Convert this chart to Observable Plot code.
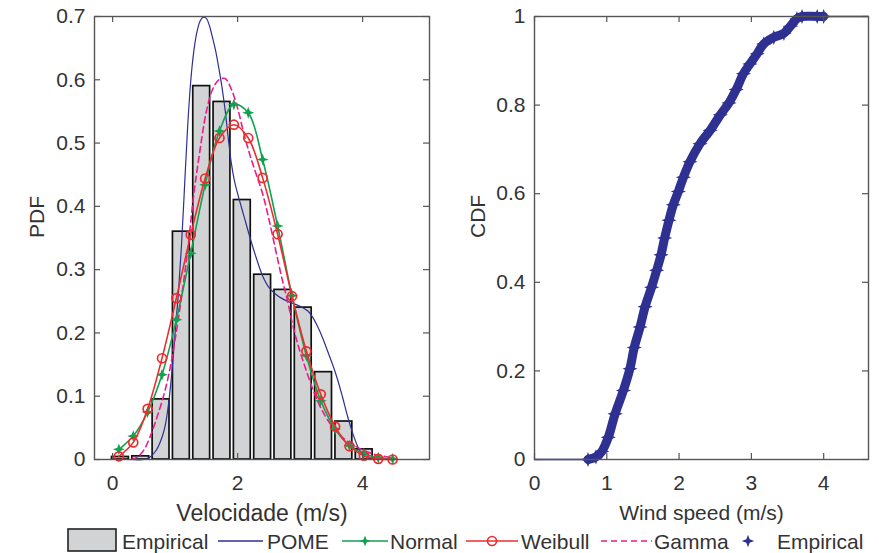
<!DOCTYPE html>
<html><head><meta charset="utf-8">
<script src="https://cdn.jsdelivr.net/npm/d3@7"></script>
<script src="https://cdn.jsdelivr.net/npm/@observablehq/plot@0.6"></script>
<style>
body{margin:0;background:#fff;font-family:"Liberation Sans",Arial,sans-serif;}
#wrap{position:relative;width:879px;height:553px;overflow:hidden;background:#fff;}
#left{position:absolute;left:0;top:0;}
#right{position:absolute;left:440px;top:0;}
#legend{position:absolute;left:0;top:527px;width:879px;height:26px;}
</style></head>
<body>
<div id="wrap"><div id="left"></div><div id="right"></div><div id="legend"></div></div>
<script>
// ---- Data ----
const binCenters = [0.125, 0.45, 0.775, 1.10, 1.425, 1.75, 2.075, 2.40, 2.725, 3.05, 3.375, 3.70, 4.025];
const binHeights = [0.004, 0.005, 0.095, 0.36, 0.59, 0.565, 0.41, 0.292, 0.268, 0.24, 0.138, 0.06, 0.016];

const fitX     = [0.10, 0.33, 0.56, 0.79, 1.02, 1.25, 1.48, 1.71, 1.94, 2.17, 2.40, 2.64, 2.87, 3.10, 3.33, 3.56, 3.79, 4.02, 4.25, 4.48];
const normalY  = [0.016, 0.037, 0.075, 0.134, 0.221, 0.326, 0.434, 0.519, 0.561, 0.548, 0.474, 0.369, 0.259, 0.164, 0.093, 0.048, 0.022, 0.009, 0.003, 0.001];
const weibullY = [0.005, 0.027, 0.080, 0.160, 0.255, 0.355, 0.444, 0.508, 0.529, 0.508, 0.445, 0.356, 0.258, 0.171, 0.103, 0.052, 0.021, 0.006, 0.001, 0.000];

const pomeX = [0.30, 0.50, 0.60, 0.70, 0.80, 0.85, 0.90, 0.95, 1.00, 1.05, 1.10, 1.15, 1.20, 1.25, 1.30, 1.35, 1.40, 1.45, 1.50, 1.55, 1.60, 1.65, 1.70, 1.75, 1.80, 1.85, 1.90, 1.95, 2.00, 2.10, 2.20, 2.30, 2.40, 2.50, 2.60, 2.70, 2.85, 3.00, 3.12, 3.20, 3.28, 3.36, 3.44, 3.52, 3.60, 3.68, 3.76, 3.84, 3.92, 4.00, 4.10, 4.20];
const pomeY = [0.000, 0.000, 0.004, 0.015, 0.038, 0.058, 0.092, 0.140, 0.200, 0.260, 0.335, 0.430, 0.525, 0.598, 0.646, 0.676, 0.693, 0.699, 0.697, 0.685, 0.666, 0.645, 0.618, 0.588, 0.552, 0.508, 0.468, 0.440, 0.420, 0.385, 0.350, 0.318, 0.290, 0.272, 0.262, 0.255, 0.248, 0.242, 0.235, 0.225, 0.210, 0.192, 0.171, 0.150, 0.126, 0.098, 0.068, 0.042, 0.021, 0.008, 0.002, 0.000];

const gammaX = [0.3, 0.4, 0.5, 0.6, 0.7, 0.8, 0.9, 1.0, 1.1, 1.2, 1.3, 1.4, 1.5, 1.6, 1.7, 1.8, 1.9, 2.0, 2.1, 2.2, 2.3, 2.4, 2.5, 2.6, 2.7, 2.8, 2.9, 3.0, 3.1, 3.2, 3.3, 3.4, 3.5, 3.6, 3.7, 3.8, 3.9, 4.0, 4.1, 4.2, 4.3, 4.4, 4.5];
const gammaY = [0.000, 0.004, 0.015, 0.036, 0.064, 0.095, 0.135, 0.190, 0.255, 0.330, 0.420, 0.490, 0.550, 0.585, 0.600, 0.602, 0.585, 0.555, 0.515, 0.480, 0.450, 0.420, 0.380, 0.335, 0.290, 0.250, 0.205, 0.170, 0.140, 0.112, 0.088, 0.069, 0.054, 0.042, 0.033, 0.026, 0.020, 0.015, 0.011, 0.008, 0.006, 0.004, 0.003];

const cdfX = [0.74, 0.85, 0.93, 1.02, 1.115, 1.23, 1.32, 1.38, 1.46, 1.53, 1.62, 1.69, 1.75, 1.80, 1.86, 1.92, 1.99, 2.06, 2.15, 2.29, 2.43, 2.57, 2.69, 2.79, 2.89, 2.98, 3.08, 3.17, 3.31, 3.45, 3.54, 3.63, 3.70, 3.91, 4.00];
const cdfY = [0.000, 0.006, 0.018, 0.050, 0.103, 0.156, 0.205, 0.253, 0.299, 0.345, 0.389, 0.427, 0.462, 0.500, 0.540, 0.575, 0.605, 0.637, 0.672, 0.713, 0.743, 0.778, 0.805, 0.835, 0.871, 0.893, 0.916, 0.938, 0.953, 0.962, 0.978, 0.995, 1.000, 1.000, 1.000];
const cdfStartX = 0, cdfEndX = 4.62;

const pdfXTicks = [0, 2, 4];
const pdfYTicks = [0, 0.1, 0.2, 0.3, 0.4, 0.5, 0.6, 0.7];
const cdfXTicks = [0, 1, 2, 3, 4];
const cdfYTicks = [0, 0.2, 0.4, 0.6, 0.8, 1];

const legendLabels = ["Empirical", "POME", "Normal", "Weibull", "Gamma", "Empirical"];

// ---- Styles ----
const C = {bar: "#d1d3d4", pome: "#2e3192", normal: "#12a150", weibull: "#ee2b2e", gamma: "#ec1c8c", cdf: "#2e3192", axis: "#555", text: "#333"};
const FONT = '"Liberation Sans", Arial, Helvetica, sans-serif';
const BIN_W = 0.27;

const star4 = {draw(ctx, size) {
  const r = Math.sqrt(size) * 0.78, r2 = r * 0.38;
  for (let i = 0; i < 8; i++) {
    const a = i * Math.PI / 4 - Math.PI / 2, rr = i % 2 ? r2 : r;
    const x = rr * Math.cos(a), y = rr * Math.sin(a);
    i ? ctx.lineTo(x, y) : ctx.moveTo(x, y);
  }
  ctx.closePath();
}};

const bars = binCenters.map((c, i) => ({c, h: binHeights[i]}));
const normal = fitX.map((x, i) => ({x, y: normalY[i]}));
const weibull = fitX.map((x, i) => ({x, y: weibullY[i]}));
const pome = pomeX.map((x, i) => ({x, y: pomeY[i]}));
const gamma = gammaX.map((x, i) => ({x, y: gammaY[i]}));
const cdf = cdfX.map((x, i) => ({x, y: cdfY[i]}));
const cdfFull = [{x: cdfStartX, y: 0}, ...cdf, {x: cdfEndX, y: 1}];

const W = 440, H = 527, ML = 94, MR = 11, MT = 16, MB = 68;
const FW = W - ML - MR, FH = H - MT - MB;

function frameMarks(xt, yt, fw, fh) {
  const s = {stroke: C.axis, strokeWidth: 1.2};
  return [
    Plot.frame({stroke: C.axis, strokeWidth: 1.4}),
    Plot.tickX(xt, {x: d => d, insetTop: fh - 6, ...s}),
    Plot.tickX(xt, {x: d => d, insetBottom: fh - 6, ...s}),
    Plot.tickY(yt, {y: d => d, insetRight: fw - 6, ...s}),
    Plot.tickY(yt, {y: d => d, insetLeft: fw - 6, ...s}),
    Plot.axisX(xt, {tickSize: 0, tickPadding: 16, label: null, tickFormat: d => String(d), fontSize: 21, fill: C.text}),
    Plot.axisY(yt, {tickSize: 0, tickPadding: 9, label: null, tickFormat: d => String(d), fontSize: 21, fill: C.text})
  ];
}

const left = Plot.plot({
  width: W, height: H, marginLeft: ML, marginRight: MR, marginTop: MT, marginBottom: MB,
  x: {domain: [-0.29, 5.07]},
  y: {domain: [0, 0.7]},
  style: {fontFamily: FONT, background: "transparent", overflow: "visible", color: C.text},
  marks: [
    Plot.rectY(bars, {x1: d => d.c - BIN_W / 2, x2: d => d.c + BIN_W / 2, y: "h", fill: C.bar, stroke: "#111", strokeWidth: 1.7}),
    Plot.line(pome, {x: "x", y: "y", stroke: C.pome, strokeWidth: 1.2, curve: "catmull-rom"}),
    Plot.line(gamma, {x: "x", y: "y", stroke: C.gamma, strokeWidth: 1.6, strokeDasharray: "6,4", curve: "catmull-rom"}),
    Plot.line(normal, {x: "x", y: "y", stroke: C.normal, strokeWidth: 1.6, curve: "catmull-rom"}),
    Plot.dot(normal, {x: "x", y: "y", symbol: star4, fill: C.normal, r: 4.3}),
    Plot.line(weibull, {x: "x", y: "y", stroke: C.weibull, strokeWidth: 1.6, curve: "catmull-rom"}),
    Plot.dot(weibull, {x: "x", y: "y", r: 4.5, stroke: C.weibull, fill: "none", strokeWidth: 1.7}),
    ...frameMarks(pdfXTicks, pdfYTicks, FW, FH),
    Plot.text(["Velocidade (m/s)"], {frameAnchor: "bottom", dy: 54, fontSize: 23, fill: C.text, lineAnchor: "middle"}),
    Plot.text(["PDF"], {frameAnchor: "left", dx: -57, rotate: -90, fontSize: 21, fill: C.text})
  ]
});
document.getElementById("left").append(left);

const W2 = 439, MR2 = 11, FW2 = W2 - ML - MR2;
const right = Plot.plot({
  width: W2, height: H, marginLeft: ML, marginRight: MR2, marginTop: MT, marginBottom: MB,
  x: {domain: [0, 4.62]},
  y: {domain: [0, 1]},
  style: {fontFamily: FONT, background: "transparent", overflow: "visible", color: C.text},
  marks: [
    Plot.line(cdfFull, {x: "x", y: "y", stroke: C.cdf, strokeWidth: 1.3}),
    Plot.line(cdf, {x: "x", y: "y", stroke: C.cdf, strokeWidth: 9, strokeLinejoin: "round", strokeLinecap: "round", curve: "catmull-rom"}),
    Plot.dot(cdf, {x: "x", y: "y", symbol: star4, fill: C.cdf, r: 5.5}),
    ...frameMarks(cdfXTicks, cdfYTicks, FW2, FH),
    Plot.text(["Wind speed (m/s)"], {frameAnchor: "bottom", dy: 54, fontSize: 21, fill: C.text, lineAnchor: "middle"}),
    Plot.text(["CDF"], {frameAnchor: "left", dx: -56, rotate: -90, fontSize: 21, fill: C.text})
  ]
});
document.getElementById("right").append(right);

// ---- Legend ----
const lg = d3.select("#legend").append("svg").attr("width", 879).attr("height", 26)
  .style("font-family", FONT).style("font-size", "21px");
const cy = 14;
lg.append("rect").attr("x", 68).attr("y", 2).attr("width", 48).attr("height", 22).attr("fill", C.bar).attr("stroke", "#222").attr("stroke-width", 1.6);
lg.append("line").attr("x1", 218).attr("x2", 263).attr("y1", cy).attr("y2", cy).attr("stroke", C.pome).attr("stroke-width", 1.3);
lg.append("line").attr("x1", 342).attr("x2", 388).attr("y1", cy).attr("y2", cy).attr("stroke", C.normal).attr("stroke-width", 1.6);
lg.append("path").attr("d", d3.symbol(star4, 16 * Math.PI)()).attr("transform", `translate(365,${cy})`).attr("fill", C.normal);
lg.append("line").attr("x1", 466).attr("x2", 518).attr("y1", cy).attr("y2", cy).attr("stroke", C.weibull).attr("stroke-width", 1.6);
lg.append("circle").attr("cx", 492).attr("cy", cy).attr("r", 4.5).attr("fill", "none").attr("stroke", C.weibull).attr("stroke-width", 1.6);
lg.append("line").attr("x1", 601).attr("x2", 652).attr("y1", cy).attr("y2", cy).attr("stroke", C.gamma).attr("stroke-width", 1.6).attr("stroke-dasharray", "6,4");
lg.append("path").attr("d", d3.symbol(star4, 20 * Math.PI)()).attr("transform", `translate(748,${cy})`).attr("fill", C.cdf);
const lx = [122, 267, 390, 521, 654, 777];
legendLabels.forEach((t, i) => lg.append("text").attr("x", lx[i]).attr("y", cy).attr("dy", "0.36em").attr("fill", C.text).text(t));
</script>
</body></html>
